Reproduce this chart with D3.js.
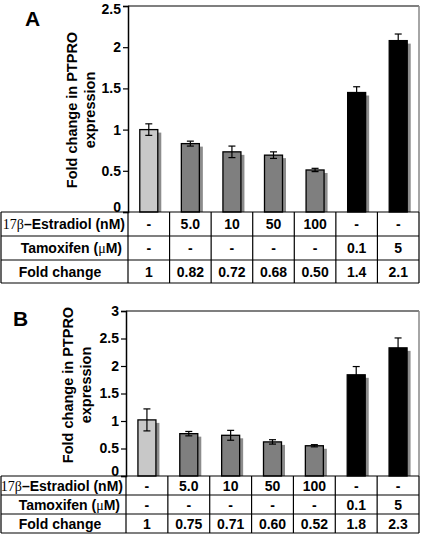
<!DOCTYPE html>
<html><head><meta charset="utf-8">
<script src="https://cdn.jsdelivr.net/npm/d3@7"></script>
<style>body{margin:0;background:#fff}svg{display:block}</style>
</head><body>
<script>
const categories = ["Control","E2 5.0","E2 10","E2 50","E2 100","Tam 0.1","Tam 5"];
const barColors = ["#c8c8c8","#7f7f7f","#7f7f7f","#7f7f7f","#7f7f7f","#000000","#000000"];
const estradiolRow = ["-","5.0","10","50","100","-","-"];
const tamoxifenRow = ["-","-","-","-","-","0.1","5"];
const foldLabelsA = ["1","0.82","0.72","0.68","0.50","1.4","2.1"];
const foldLabelsB = ["1","0.75","0.71","0.60","0.52","1.8","2.3"];
const valuesA = [1.0,0.83,0.73,0.69,0.51,1.45,2.08];
const errorsA = [0.07,0.03,0.07,0.04,0.02,0.07,0.08];
const valuesB = [1.02,0.77,0.74,0.62,0.55,1.84,2.33];
const errorsB = [0.20,0.04,0.09,0.04,0.02,0.15,0.18];
const ticksA = [0,0.5,1,1.5,2,2.5];
const ticksB = [0,0.5,1,1.5,2,2.5,3];

const W=422,H=534;
const svg=d3.select("body").append("svg").attr("width",W).attr("height",H);
const SANS="Arial, 'Liberation Sans', sans-serif";
const SERIF="'Times New Roman', 'Liberation Serif', serif";

function panel(cfg){
  const g=svg.append("g");
  const x=d3.scaleBand().domain(categories).range([cfg.left,cfg.right]).paddingInner(0).paddingOuter(0);
  const y=d3.scaleLinear().domain([0,cfg.max]).range([cfg.bottom,cfg.top]);
  const bw=18;
  g.append("line").attr("x1",cfg.left).attr("x2",cfg.right).attr("y1",cfg.top).attr("y2",cfg.top).attr("stroke","#555").attr("stroke-width",1.5);
  g.append("line").attr("x1",cfg.right).attr("x2",cfg.right).attr("y1",cfg.top).attr("y2",cfg.bottom).attr("stroke","#888").attr("stroke-width",1.5);
  const data=categories.map((c,i)=>({c,v:cfg.values[i],e:cfg.errors[i],col:barColors[i]}));
  g.selectAll(".sh").data(data).join("rect")
    .attr("x",d=>x(d.c)+x.bandwidth()/2-bw/2+3.5).attr("y",d=>y(d.v)+3)
    .attr("width",bw).attr("height",d=>cfg.bottom-y(d.v)-3).attr("fill","#8c8c8c");
  g.selectAll(".bar").data(data).join("rect")
    .attr("x",d=>x(d.c)+x.bandwidth()/2-bw/2).attr("y",d=>y(d.v))
    .attr("width",bw).attr("height",d=>cfg.bottom-y(d.v))
    .attr("fill",d=>d.col).attr("stroke","#000").attr("stroke-width",1.3);
  data.forEach(d=>{
    const cx=x(d.c)+x.bandwidth()/2;
    g.append("line").attr("x1",cx).attr("x2",cx).attr("y1",y(d.v+d.e)).attr("y2",y(d.v-d.e)).attr("stroke","#000").attr("stroke-width",1.2);
    [d.v+d.e,d.v-d.e].forEach(v=>g.append("line").attr("x1",cx-3.5).attr("x2",cx+3.5).attr("y1",y(v)).attr("y2",y(v)).attr("stroke","#000").attr("stroke-width",1.2));
  });
  const ax=g.append("g").attr("transform",`translate(${cfg.left},0)`)
    .call(d3.axisLeft(y).tickValues(cfg.ticks).tickFormat(d3.format("")).tickSizeOuter(0).tickSize(5).tickPadding(2));
  ax.select(".domain").attr("stroke","#000").attr("stroke-width",1.5);
  ax.selectAll(".tick line").attr("stroke","#000").attr("stroke-width",1.2);
  ax.selectAll(".tick text").attr("font-family",SANS).attr("font-weight","bold").attr("font-size",14).attr("fill","#000")
    .attr("dy",d=>d===0?"-0.05em":((d===cfg.max && cfg.top<10)?"0.5em":"0.32em"));
  const tx=g.append("text").attr("transform",`translate(${cfg.titleX},${cfg.titleY}) rotate(-90)`)
    .attr("text-anchor","middle").attr("font-family",SANS).attr("font-weight","bold").attr("font-size",14.5);
  tx.append("tspan").attr("x",0).attr("dy",0).text("Fold change in PTPRO");
  tx.append("tspan").attr("x",0).attr("dy",18).text("expression");
  g.append("text").attr("x",cfg.letterX).attr("y",cfg.letterY).attr("font-family",SANS).attr("font-weight","bold").attr("font-size",21).text(cfg.letter);
  const rows=cfg.rows;
  const L=1;
  rows.forEach(r=>g.append("line").attr("x1",L).attr("x2",cfg.right).attr("y1",r).attr("y2",r).attr("stroke","#000").attr("stroke-width",1.2));
  [L,cfg.left].concat(categories.slice(1).map(c=>x(c))).concat([cfg.right]).forEach(xx=>
    g.append("line").attr("x1",xx).attr("x2",xx).attr("y1",rows[0]).attr("y2",rows[3]).attr("stroke","#000").attr("stroke-width",1.2));
  const cellRows=[estradiolRow,tamoxifenRow,cfg.fold];
  cellRows.forEach((row,ri)=>{
    const yy=(rows[ri]+rows[ri+1])/2+5;
    row.forEach((t,i)=>g.append("text").attr("x",x(categories[i])+x.bandwidth()/2).attr("y",yy)
      .attr("text-anchor","middle").attr("font-family",SANS).attr("font-weight","bold").attr("font-size",14).text(t));
  });
  const y1=(rows[0]+rows[1])/2+5, y2=(rows[1]+rows[2])/2+5, y3=(rows[2]+rows[3])/2+5;
  const h1=g.append("text").attr("x",cfg.left-3).attr("y",y1).attr("text-anchor","end").attr("font-size",14);
  h1.append("tspan").attr("font-family",SERIF).text("17β");
  h1.append("tspan").attr("font-family",SANS).attr("font-weight","bold").text("–Estradiol (nM)");
  const h2=g.append("text").attr("x",cfg.left-6).attr("y",y2).attr("text-anchor","end").attr("font-size",14);
  h2.append("tspan").attr("font-family",SANS).attr("font-weight","bold").text("Tamoxifen (");
  h2.append("tspan").attr("font-family",SERIF).text("μ");
  h2.append("tspan").attr("font-family",SANS).attr("font-weight","bold").text("M)");
  g.append("text").attr("x",60).attr("y",y3).attr("text-anchor","middle").attr("font-family",SANS).attr("font-weight","bold").attr("font-size",14).text("Fold change");
}

panel({letter:"A",letterX:25,letterY:26,left:128,right:419,top:6,bottom:212,max:2.5,ticks:ticksA,
  values:valuesA,errors:errorsA,fold:foldLabelsA,titleX:77,titleY:110,rows:[212,236,260,283]});
panel({letter:"B",letterX:13,letterY:326,left:126,right:419,top:311,bottom:476,max:3,ticks:ticksB,
  values:valuesB,errors:errorsB,fold:foldLabelsB,titleX:73,titleY:385,rows:[476,495,514,533]});
</script>
</body></html>
